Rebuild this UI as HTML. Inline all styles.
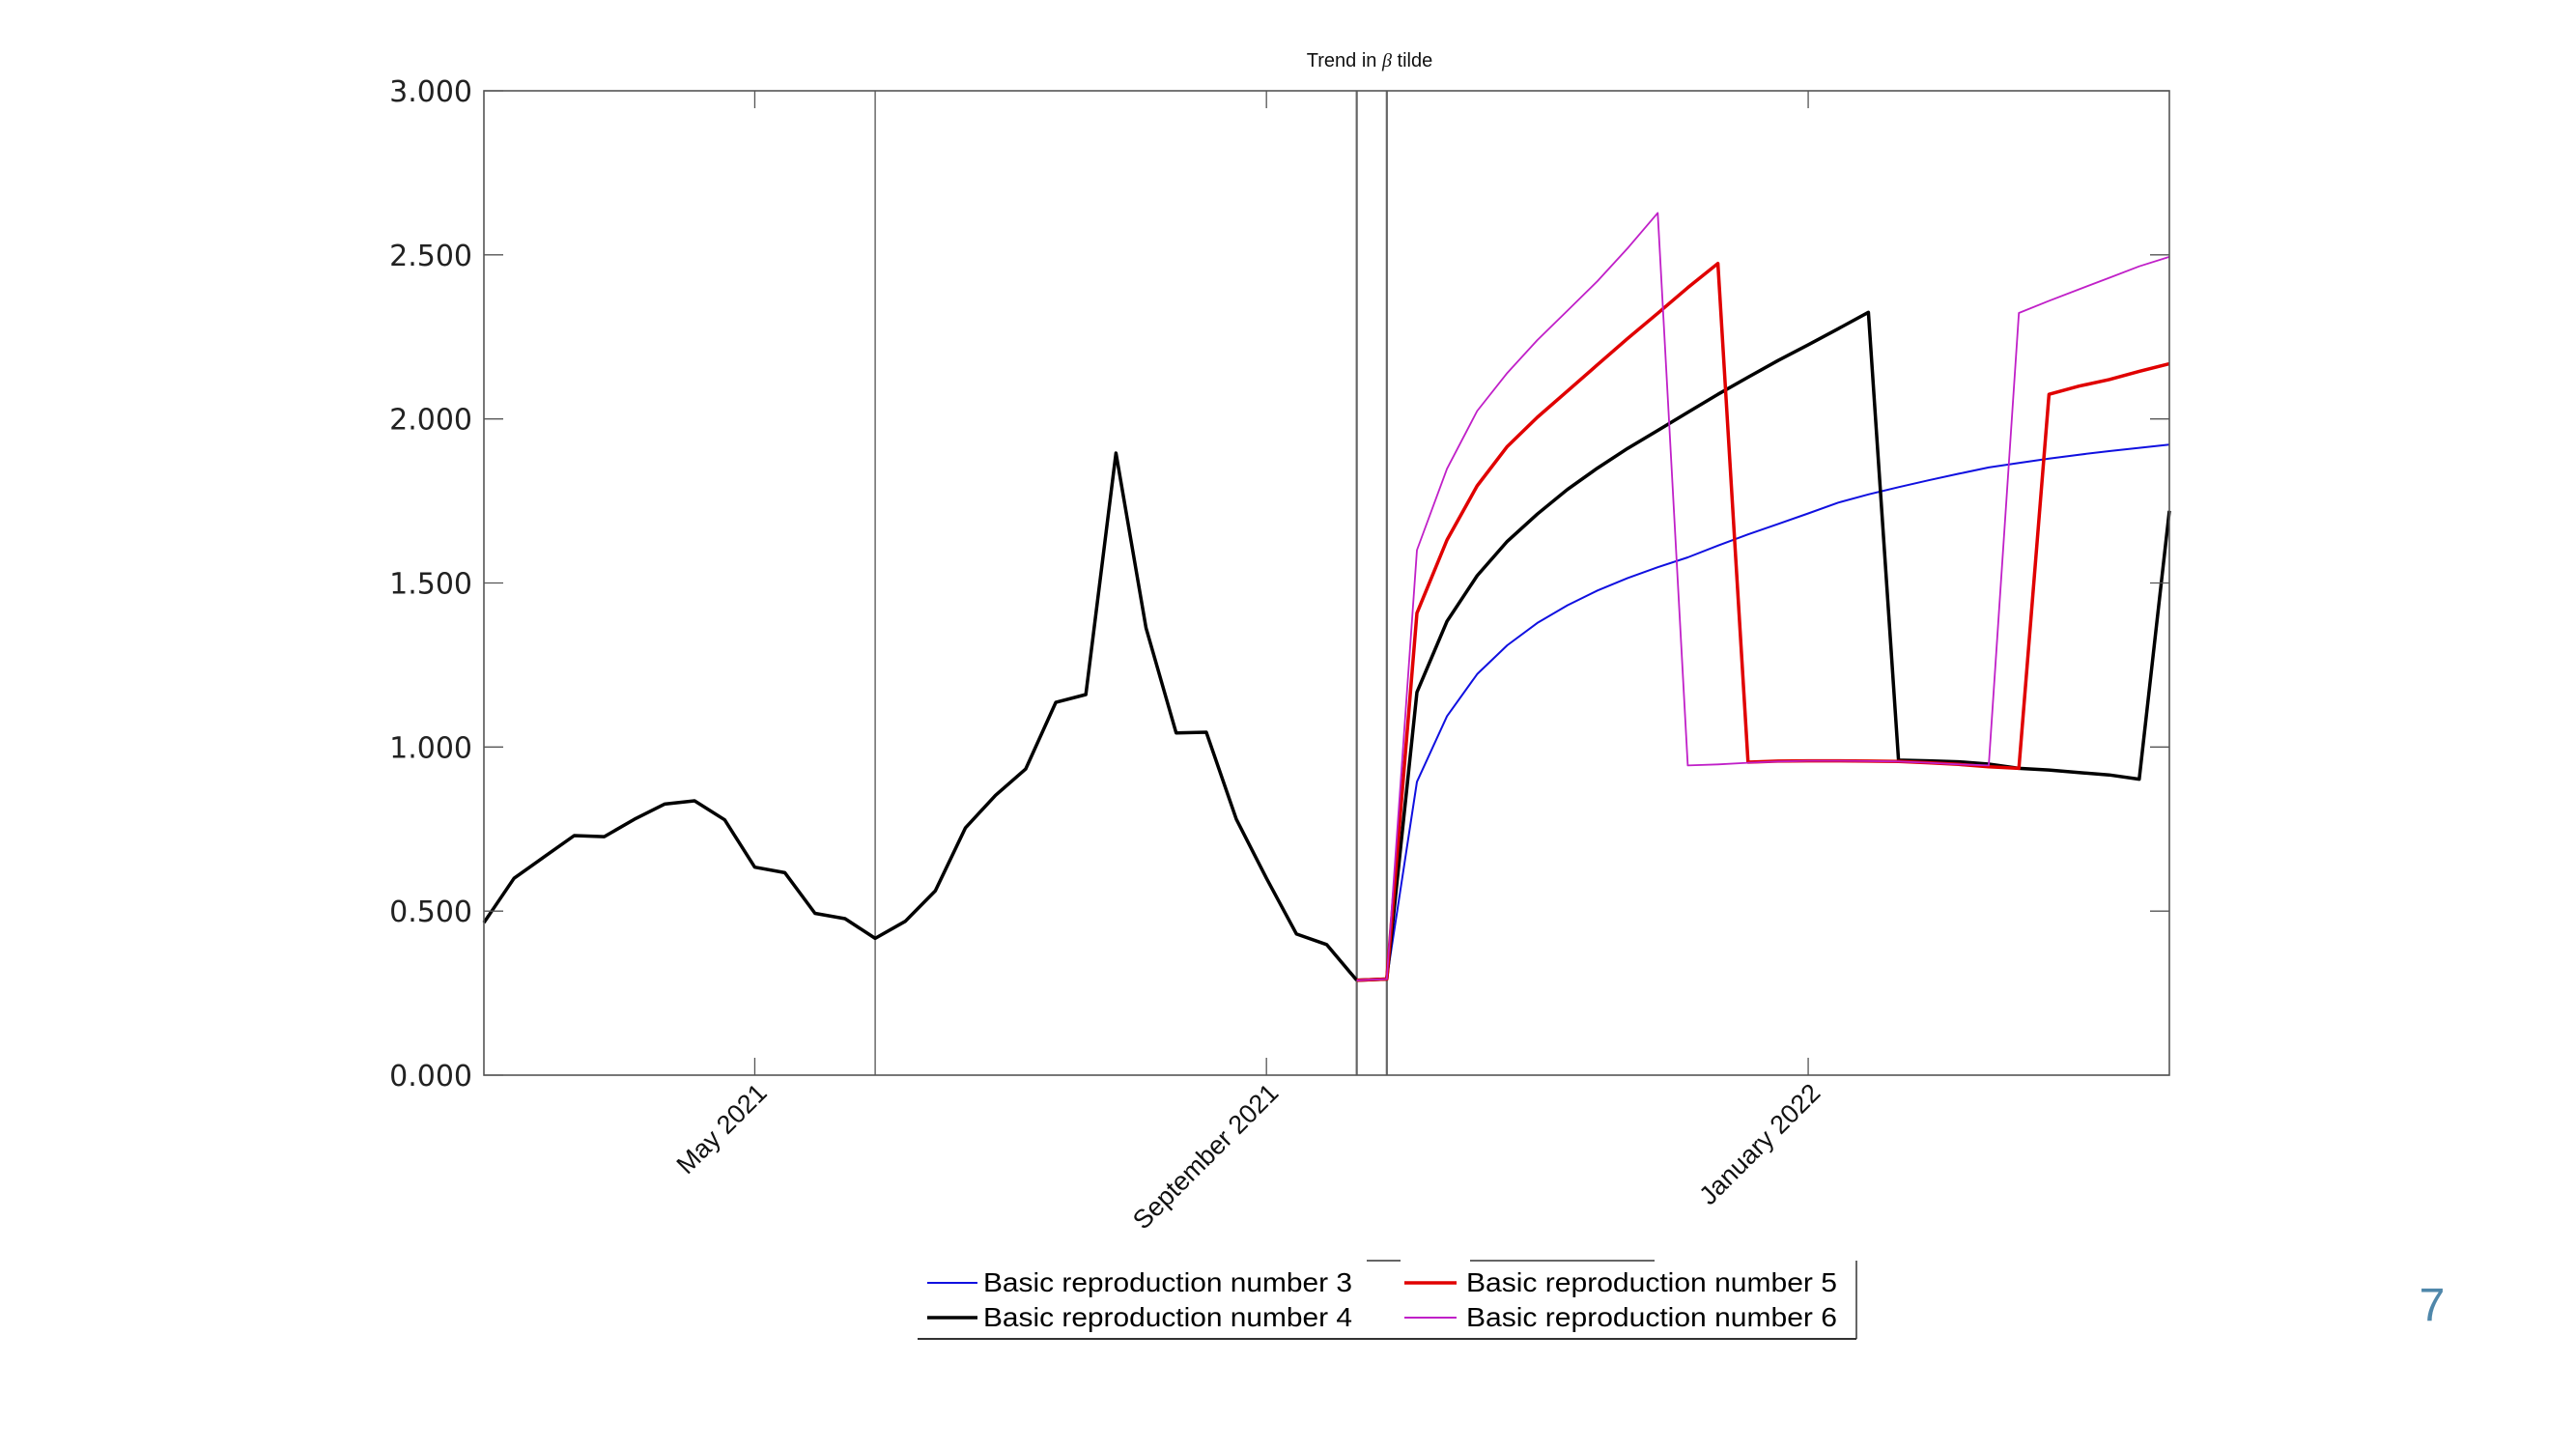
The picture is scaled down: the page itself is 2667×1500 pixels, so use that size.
<!DOCTYPE html>
<html><head><meta charset="utf-8"><style>
html,body{margin:0;padding:0;background:#fff;}
body{width:2667px;height:1500px;overflow:hidden;position:relative;font-family:"Liberation Sans",sans-serif;}
</style></head><body>
<svg id="chart" width="2667" height="1500" viewBox="0 0 2667 1500" xmlns="http://www.w3.org/2000/svg" style="position:absolute;left:0;top:0">
<text x="1418" y="69" font-family="Liberation Sans, sans-serif" font-size="20" text-anchor="middle" fill="#111">Trend in <tspan font-family="Liberation Serif, serif" font-style="italic">β</tspan> tilde</text>
<g id="grid"></g>
<g id="series"></g>
<rect x="501" y="94" width="1745" height="1019" fill="none" stroke="#555" stroke-width="1.6"/>
<g id="axes"></g>
<g>
  <rect x="950" y="1305" width="972" height="82" fill="#fff"/>
  <line x1="950" y1="1386" x2="1922" y2="1386" stroke="#333" stroke-width="2"/>
  <line x1="1922" y1="1305" x2="1922" y2="1386" stroke="#333" stroke-width="1.5"/>
  <line x1="1415" y1="1305" x2="1450" y2="1305" stroke="#333" stroke-width="1.5"/>
  <line x1="1522" y1="1305" x2="1713" y2="1305" stroke="#333" stroke-width="1.5"/>
  <g>
    <line x1="960" y1="1328" x2="1012" y2="1328" stroke="#1010e0" stroke-width="2"/>
    <text x="1018" y="1337" font-size="28" fill="#000" textLength="382" lengthAdjust="spacingAndGlyphs">Basic reproduction number 3</text>
  </g>
  <g>
    <line x1="960" y1="1364" x2="1012" y2="1364" stroke="#000" stroke-width="3.5"/>
    <text x="1018" y="1373" font-size="28" fill="#000" textLength="382" lengthAdjust="spacingAndGlyphs">Basic reproduction number 4</text>
  </g>
  <g>
    <line x1="1454" y1="1328" x2="1508" y2="1328" stroke="#e00000" stroke-width="3.5"/>
    <text x="1518" y="1337" font-size="28" fill="#000" textLength="384" lengthAdjust="spacingAndGlyphs">Basic reproduction number 5</text>
  </g>
  <g>
    <line x1="1454" y1="1364" x2="1508" y2="1364" stroke="#c020c8" stroke-width="2"/>
    <text x="1518" y="1373" font-size="28" fill="#000" textLength="384" lengthAdjust="spacingAndGlyphs">Basic reproduction number 6</text>
  </g>
</g>
<text x="2518" y="1367" font-size="48" fill="#4f87aa" text-anchor="middle">7</text>
</svg>
<script>
// ---- data ----
const yTicks = [0, 0.5, 1.0, 1.5, 2.0, 2.5, 3.0];
const yTickLabels = ["0.000","0.500","1.000","1.500","2.000","2.500","3.000"];
const xTickWeeks = [9, 26, 44];
const xTickLabels = ["May 2021","September 2021","January 2022"];
const markerWeeks = [13, 29, 30];
const histStart = 0;
const historical = [0.465,0.60,0.665,0.73,0.727,0.78,0.826,0.836,0.778,0.634,0.617,0.493,0.477,0.417,0.469,0.562,0.754,0.853,0.933,1.136,1.160,1.896,1.363,1.043,1.045,0.78,0.60,0.43,0.398,0.289];
const projStart = 29;
const r3 = [0.289,0.293,0.894,1.094,1.222,1.31,1.378,1.432,1.477,1.515,1.548,1.578,1.614,1.648,1.68,1.712,1.745,1.77,1.792,1.813,1.833,1.852,1.866,1.879,1.891,1.902,1.912,1.922];
const r4 = [0.289,0.293,1.167,1.383,1.522,1.627,1.71,1.785,1.85,1.91,1.965,2.02,2.075,2.127,2.178,2.226,2.275,2.325,0.960,0.958,0.955,0.948,0.935,0.93,0.922,0.915,0.902,1.72];
const r5 = [0.289,0.293,1.408,1.631,1.796,1.916,2.005,2.085,2.165,2.245,2.322,2.40,2.474,0.954,0.957,0.958,0.958,0.957,0.956,0.952,0.947,0.94,0.935,2.075,2.10,2.12,2.145,2.168];
const r6 = [0.289,0.293,1.60,1.848,2.024,2.14,2.24,2.33,2.42,2.52,2.628,0.944,0.947,0.952,0.956,0.958,0.958,0.957,0.956,0.952,0.947,0.944,2.323,2.36,2.395,2.43,2.465,2.494];

// ---- axes functions ----
const X0=501, X1=2246, Y0=1113, Y1=94, WMAX=56, YMAX=3;
function xs(w){return X0+(X1-X0)*w/WMAX;}
function ys(v){return Y0-(Y0-Y1)*v/YMAX;}
const NS="http://www.w3.org/2000/svg";
function mk(tag,attrs,parent){const e=document.createElementNS(NS,tag);for(const k in attrs)e.setAttribute(k,attrs[k]);parent.appendChild(e);return e;}

const grid=document.getElementById('grid');
markerWeeks.forEach((w,i)=>{
  const l=mk('line',{x1:xs(w),x2:xs(w),y1:Y1,y2:Y0,stroke:i===0?'#444':'#666','stroke-width':i===0?1.2:2.2},grid);
  
  
});

const axes=document.getElementById('axes');
yTicks.forEach((v,i)=>{
  const y=ys(v);
  const t=mk('text',{x:489,y:y+11,'font-family':'DejaVu Sans, sans-serif','font-size':30,'text-anchor':'end',fill:'#222'},axes);
  t.textContent=yTickLabels[i];
  
  
  const a=mk('line',{x1:X0,x2:X0+20,y1:y,y2:y,stroke:'#555','stroke-width':1.3},axes);
  
  
  const b=mk('line',{x1:X1-20,x2:X1,y1:y,y2:y,stroke:'#555','stroke-width':1.3},axes);
  
  
});
xTickWeeks.forEach((w,i)=>{
  const x=xs(w);
  const a=mk('line',{x1:x,x2:x,y1:Y0,y2:Y0-18,stroke:'#555','stroke-width':1.3},axes);
  
  
  const b=mk('line',{x1:x,x2:x,y1:Y1,y2:Y1+18,stroke:'#555','stroke-width':1.3},axes);
  
  
  const t=mk('text',{x:x+14,y:Y0+20,'font-family':'Liberation Sans, sans-serif','font-size':27,'text-anchor':'end',fill:'#111',transform:`rotate(-45 ${x+14} ${Y0+20})`},axes);
  t.textContent=xTickLabels[i];
  
  
});

const series=document.getElementById('series');
function path(arr,start){return arr.map((v,i)=>(i?'L':'M')+xs(start+i).toFixed(1)+' '+ys(v).toFixed(1)).join(' ');}
const h=mk('path',{d:path(historical,histStart),fill:'none',stroke:'#000','stroke-width':3.5,'stroke-linejoin':'round'},series);


const defs=[[r3,'#1010e0',2,'line-r3'],[r4,'#000',3.5,'line-r4'],[r5,'#e00000',3.5,'line-r5'],[r6,'#c020c8',1.8,'line-r6']];
defs.forEach(d=>{
  const p=mk('path',{d:path(d[0],projStart),fill:'none',stroke:d[1],'stroke-width':d[2],'stroke-linejoin':'round'},series);
  
  
});
</script>
</body></html>
